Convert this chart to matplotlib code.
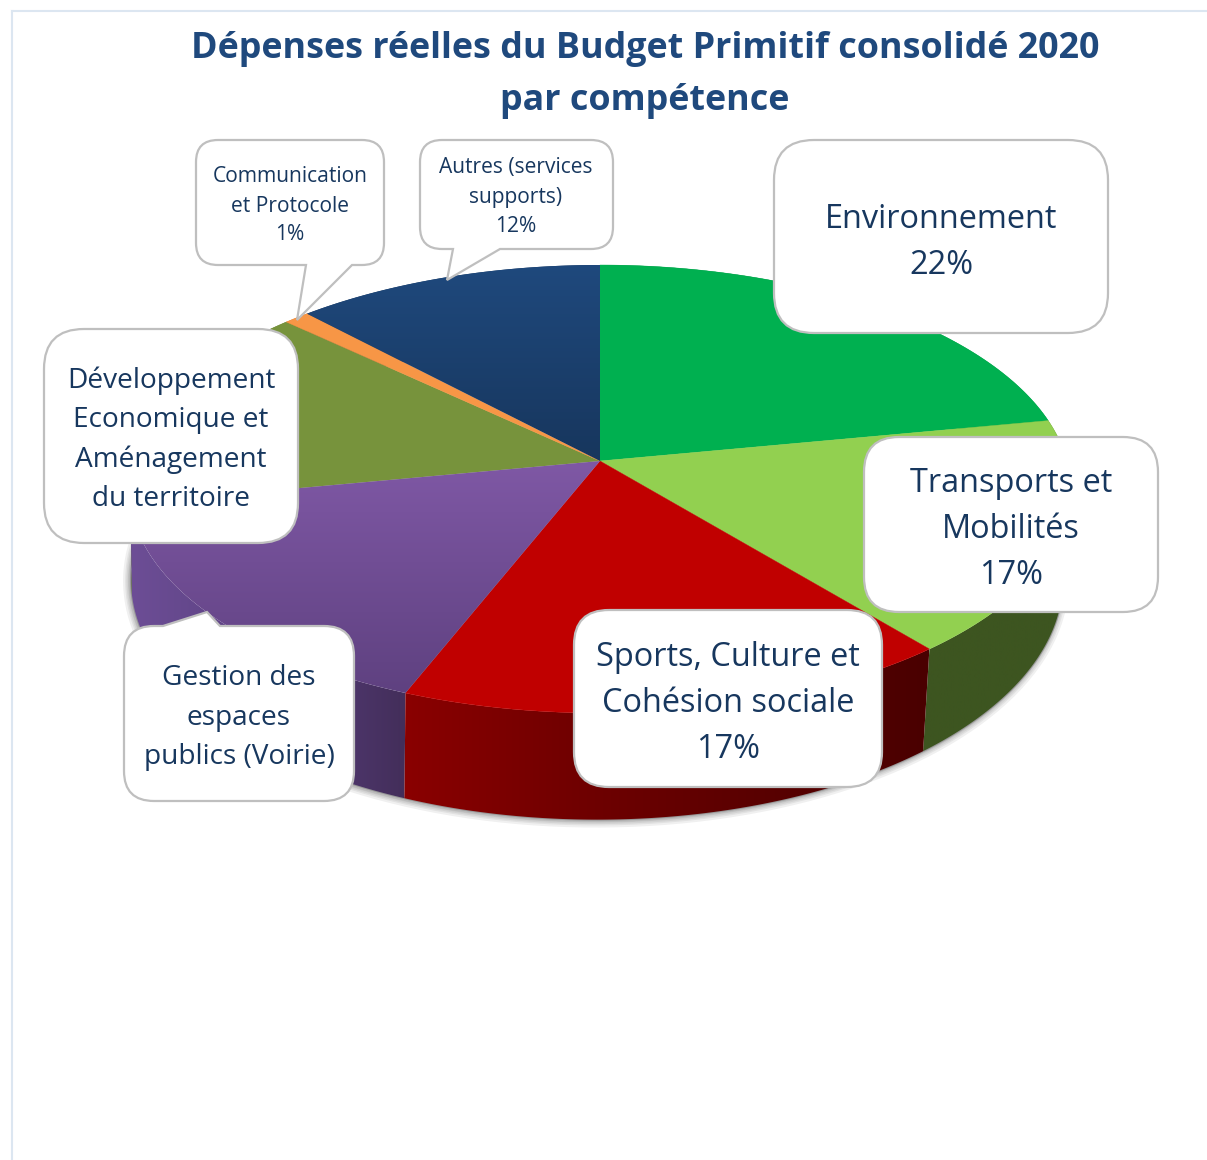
import numpy as np
import matplotlib
matplotlib.use("Agg")
import matplotlib.pyplot as plt
from matplotlib.path import Path
from matplotlib.patches import PathPatch, Polygon
from matplotlib.colors import LinearSegmentedColormap

# ---- data ----
categories = ["Environnement", "Transports et Mobilités", "Sports, Culture et Cohésion sociale",
              "Gestion des espaces publics (Voirie)", "Développement Economique et Aménagement du territoire",
              "Communication et Protocole", "Autres (services supports)"]
values = [22, 17, 17, 16, 15, 1, 12]
title_lines = ["Dépenses réelles du Budget Primitif consolidé 2020", "par compétence"]
top_colors = ["#00b050", "#92d050", "#c00000", None, "#77933c", "#f79646", None]

plt.rcParams['font.family'] = ['Open Sans', 'DejaVu Sans']
W, H = 1207, 1160
fig = plt.figure(figsize=(W/100, H/100), dpi=100)
ax = fig.add_axes([0, 0, 1, 1])
ax.set_xlim(0, W); ax.set_ylim(H, 0); ax.axis("off")

# ---- page frame ----
ax.plot([12, 12], [H, 11], color="#dce6f1", lw=1.5)
ax.plot([12, W], [11, 11], color="#dce6f1", lw=1.5)

# ---- perspective pie geometry ----
CX, CY, RX, RY, K = 600, 461, 467, 220.5, -0.125
BOT_DX, BOT_DY, BOT_SX, BOT_SY = -3, 89, 0.99, 1.07

def rim(theta, bottom=False):
    x, y = np.sin(theta), -np.cos(theta)
    d = 1 + K * y
    X, Y = RX * x / d, RY * y / d
    if bottom:
        return np.c_[CX + BOT_DX + X * BOT_SX, CY + BOT_DY + Y * BOT_SY]
    return np.c_[CX + X, CY + Y]

cum = np.concatenate([[0], np.cumsum(values)]) / sum(values) * 2 * np.pi
arcs = [np.linspace(cum[i], cum[i + 1], 120) for i in range(len(values))]

def gradient_fill(poly, cmap_colors, extent, horizontal=False, z=2):
    cmap = LinearSegmentedColormap.from_list("g", cmap_colors)
    g = np.linspace(0, 1, 256)
    g = g.reshape(1, -1) if horizontal else g.reshape(-1, 1)
    im = ax.imshow(g, cmap=cmap, extent=extent, aspect="auto", zorder=z, origin="upper")
    patch = Polygon(poly, closed=True, transform=ax.transData, fc="none", ec="none")
    ax.add_patch(patch)
    im.set_clip_path(patch)

# soft shadow around the lower rim
full = np.linspace(0, 2 * np.pi, 400)
bot = rim(full, True)
for lw in [10, 7, 5, 3, 2]:
    ax.plot(bot[:, 0] - 1, bot[:, 1] + 1, color="k", alpha=0.06, lw=lw, zorder=1)
ax.plot(bot[:, 0], bot[:, 1], color="#707070", alpha=0.45, lw=1.5, zorder=1)

# side walls (back to front)
wall_colors = {
    0: ["#00803a", "#00803a"],
    1: ["#3d5520", "#3d5520"],
    2: ["#8a0000", "#700000", "#5a0000", "#4a0000"],
    3: ["#6d4e96", "#5a4080", "#432e5a"],
    4: ["#5d7230", "#5d7230"],
    5: ["#b06a30", "#b06a30"],
    6: ["#17365d", "#17365d"],
}
for i in [6, 5, 0, 4, 1, 3, 2]:
    poly = np.r_[rim(arcs[i]), rim(arcs[i], True)[::-1]]
    x0, x1 = poly[:, 0].min(), poly[:, 0].max()
    y0, y1 = poly[:, 1].min(), poly[:, 1].max()
    gradient_fill(poly, wall_colors[i], (x0, x1, y1, y0), horizontal=True, z=2)

# top faces
for i, c in enumerate(top_colors):
    poly = np.r_[[[CX, CY]], rim(arcs[i])]
    if c is not None:
        ax.add_patch(Polygon(poly, closed=True, fc=c, ec=c, lw=0.3, zorder=3))
gradient_fill(np.r_[[[CX, CY]], rim(arcs[6])], ["#1f497d", "#17365d"], (290, 600, 461, 265), z=3)
gradient_fill(np.r_[[[CX, CY]], rim(arcs[3])], ["#7f58a5", "#5c3f7d"], (120, 600, 713, 461), z=3)

# ---- callouts ----
def callout(x0, y0, x1, y1, r, tail=None):
    """Rounded box; tail = (edge, a, tipx, tipy, b)."""
    v = [(x0 + r, y0)]; c = [Path.MOVETO]
    if tail and tail[0] == "top":
        _, a, tx, ty, b = tail
        v += [(a, y0), (tx, ty), (b, y0)]; c += [Path.LINETO] * 3
    v += [(x1 - r, y0), (x1, y0), (x1, y0 + r), (x1, y1 - r), (x1, y1), (x1 - r, y1)]
    c += [Path.LINETO, Path.CURVE3, Path.CURVE3, Path.LINETO, Path.CURVE3, Path.CURVE3]
    if tail and tail[0] == "bottom":
        _, a, tx, ty, b = tail
        v += [(b, y1), (tx, ty), (a, y1)]; c += [Path.LINETO] * 3
    v += [(x0 + r, y1), (x0, y1), (x0, y1 - r), (x0, y0 + r), (x0, y0), (x0 + r, y0)]
    c += [Path.LINETO, Path.CURVE3, Path.CURVE3, Path.LINETO, Path.CURVE3, Path.CURVE3]
    ax.add_patch(PathPatch(Path(v, c), fc="white", ec="#bfbfbf", lw=1.6, zorder=5))

TXT = "#17375e"
label_boxes = [
    ((774, 140, 1108, 333, 40, None), ["Environnement", "22%"], [219, 265], 941, 23.4),
    ((864, 437, 1158, 612, 35, None), ["Transports et", "Mobilités", "17%"], [484, 530, 575], 1011, 23.4),
    ((574, 610, 882, 787, 35, None), ["Sports, Culture et", "Cohésion sociale", "17%"], [658, 704, 749], 728, 23.4),
    ((124, 626, 354, 801, 30, ("top", 163, 207, 612, 220)), ["Gestion des", "espaces", "publics (Voirie)"], [678, 718, 757], 239, 20.2),
    ((44, 329, 298, 543, 40, None), ["Développement", "Economique et", "Aménagement", "du territoire"], [381, 420, 460, 499], 171, 20.2),
    ((196, 140, 384, 265, 22, ("bottom", 306, 297, 320, 352)), ["Communication", "et Protocole", "1%"], [176, 206, 235], 290, 15.1),
    ((420, 140, 613, 249, 22, ("bottom", 453, 447, 280, 500)), ["Autres (services", "supports)", "12%"], [168, 198, 227], 516, 15.1),
]
for box, lines, ys, xc, fs in label_boxes:
    callout(*box)
    for s, y in zip(lines, ys):
        ax.text(xc, y, s, ha="center", va="center", color=TXT, fontsize=fs, zorder=6)

# ---- title ----
for s, y in zip(title_lines, [49, 101]):
    ax.text(645, y, s, ha="center", va="center", color="#1f497d", fontsize=25.8, fontweight="bold", zorder=6)

ax.set_xlim(0, W); ax.set_ylim(H, 0)
fig.savefig("out.png", dpi=100, facecolor="white")
